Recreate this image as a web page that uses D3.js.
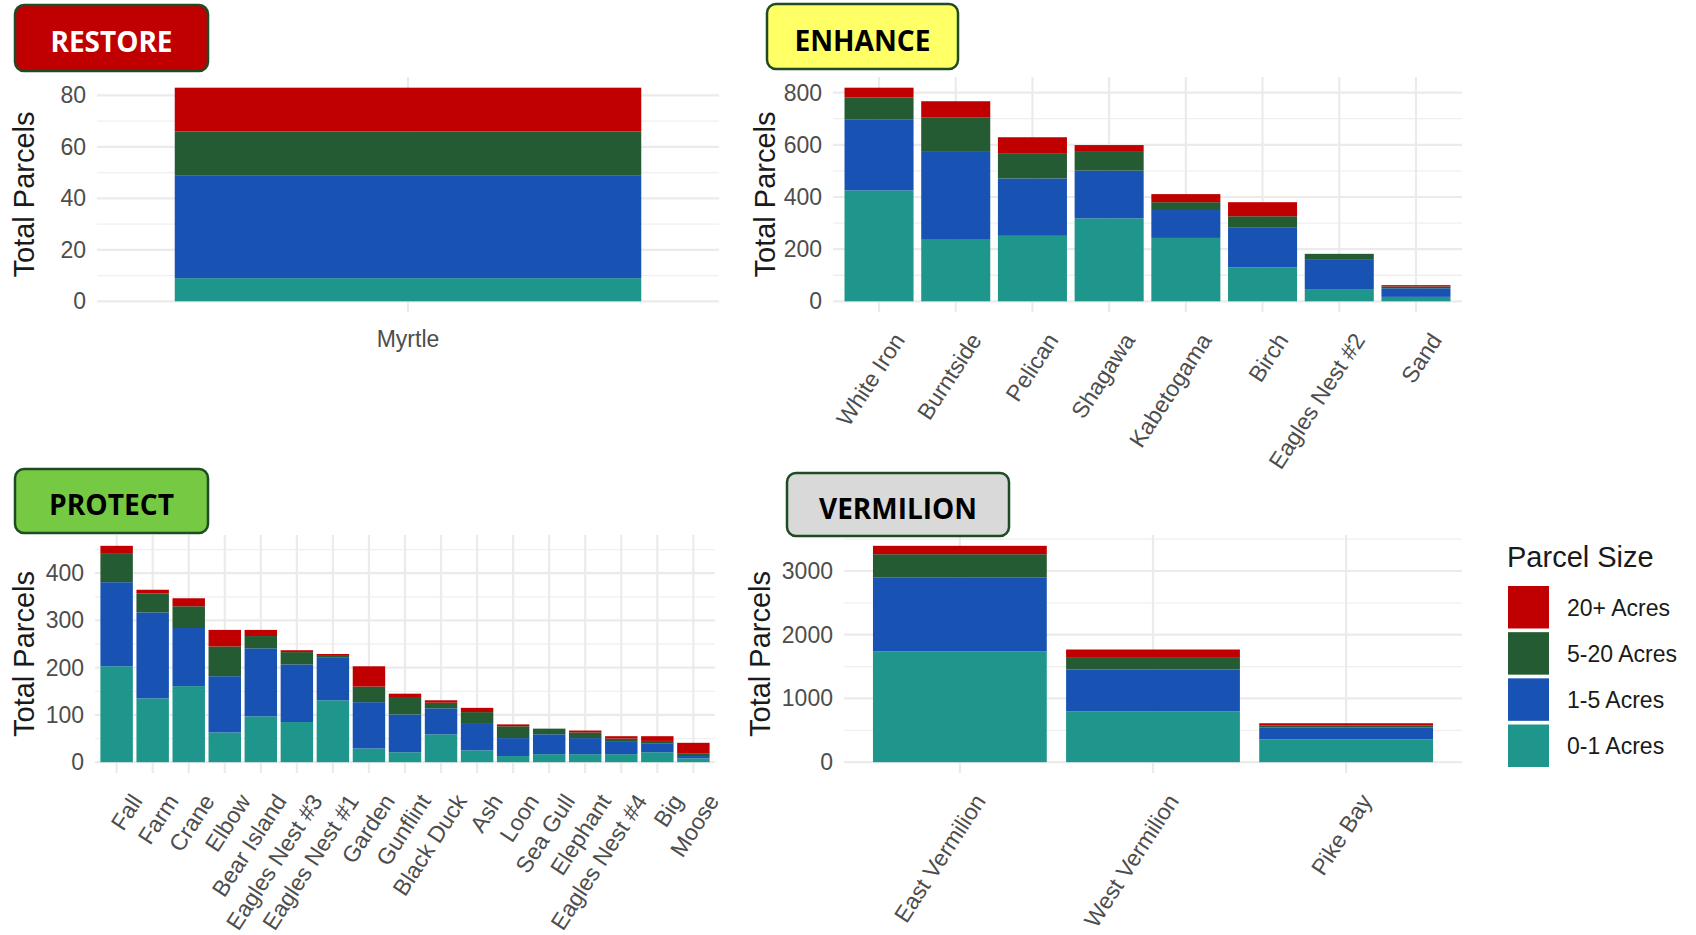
<!DOCTYPE html>
<html>
<head>
<meta charset="utf-8">
<script src="https://cdn.jsdelivr.net/npm/d3@7"></script>
<style>
  body { margin: 0; background: #fff; }
  svg { display: block; font-family: "Liberation Sans", Arial, sans-serif; }
</style>
</head>
<body>
<div id="chart"></div>
<script>
// Parcel counts per lake, by parcel size class
var sizeKeys = ["0-1 Acres", "1-5 Acres", "5-20 Acres", "20+ Acres"];
var sizeColors = ["#1F968B", "#1853B4", "#245B32", "#C00000"];

var restoreLakes = ["Myrtle"];
var restore01 = [9];
var restore15 = [40];
var restore520 = [17];
var restore20 = [17];

var enhanceLakes = ["White Iron", "Burntside", "Pelican", "Shagawa", "Kabetogama", "Birch", "Eagles Nest #2", "Sand"];
var enhance01 = [425, 236, 251, 318, 243, 130, 47, 17];
var enhance15 = [273, 340, 220, 183, 107, 152, 112, 33];
var enhance520 = [83, 128, 97, 75, 30, 44, 23, 7];
var enhance20 = [38, 63, 61, 23, 31, 54, 0, 5];

var protectLakes = ["Fall", "Farm", "Crane", "Elbow", "Bear Island", "Eagles Nest #3", "Eagles Nest #1", "Garden",
  "Gunflint", "Black Duck", "Ash", "Loon", "Sea Gull", "Elephant", "Eagles Nest #4", "Big", "Moose"];
var protect01 = [203, 135, 161, 63, 97, 85, 131, 29, 21, 59, 25, 13, 17, 17, 17, 21, 8];
var protect15 = [178, 182, 123, 119, 144, 122, 90, 98, 80, 55, 56, 38, 42, 34, 26, 18, 5];
var protect520 = [60, 40, 46, 63, 26, 26, 4, 33, 35, 12, 25, 25, 12, 12, 7, 6, 6];
var protect20 = [17, 8, 17, 35, 13, 4, 4, 43, 9, 5, 9, 4, 0, 4, 5, 10, 22];

var vermilionLakes = ["East Vermilion", "West Vermilion", "Pike Bay"];
var vermilion01 = [1737, 795, 358];
var vermilion15 = [1158, 658, 184];
var vermilion520 = [368, 184, 37];
var vermilion20 = [132, 131, 32];

// tick labels
var restoreTicks = [0, 20, 40, 60, 80];
var enhanceTicks = [0, 200, 400, 600, 800];
var protectTicks = [0, 100, 200, 300, 400];
var vermilionTicks = [0, 1000, 2000, 3000];

var svg = d3.select("#chart").append("svg")
  .attr("width", 1696)
  .attr("height", 935);

function buildRows(lakes, s01, s15, s520, s20) {
  return lakes.map(function(name, i) {
    var r = { lake: name };
    r[sizeKeys[0]] = s01[i];
    r[sizeKeys[1]] = s15[i];
    r[sizeKeys[2]] = s520[i];
    r[sizeKeys[3]] = s20[i];
    return r;
  });
}

function drawPanel(p) {
  var rows = buildRows(p.lakes, p.s01, p.s15, p.s520, p.s20);
  var series = d3.stack().keys(sizeKeys)(rows);
  var maxTotal = d3.max(rows, function(d) { return d3.sum(sizeKeys, function(k) { return d[k]; }); });

  var x = d3.scaleBand()
    .domain(p.lakes)
    .range([p.left, p.right])
    .paddingInner(0.1)
    .paddingOuter(0.15);

  var y = d3.scaleLinear()
    .domain([-0.05 * maxTotal, 1.05 * maxTotal])
    .range([p.bottom, p.top]);

  var g = svg.append("g");

  // minor gridlines (halfway between the major ticks)
  var step = p.ticks[1] - p.ticks[0];
  var minor = d3.range(step / 2, 1.05 * maxTotal, step);
  g.selectAll(".minor").data(minor).enter().append("line")
    .attr("x1", p.left).attr("x2", p.right)
    .attr("y1", function(d) { return y(d); })
    .attr("y2", function(d) { return y(d); })
    .attr("stroke", "#EFEFEF").attr("stroke-width", 1.3);

  // major gridlines
  g.selectAll(".major").data(p.ticks).enter().append("line")
    .attr("x1", p.left).attr("x2", p.right)
    .attr("y1", function(d) { return y(d); })
    .attr("y2", function(d) { return y(d); })
    .attr("stroke", "#EBEBEB").attr("stroke-width", 2.2);

  g.selectAll(".vgrid").data(p.lakes).enter().append("line")
    .attr("x1", function(d) { return x(d) + x.bandwidth() / 2; })
    .attr("x2", function(d) { return x(d) + x.bandwidth() / 2; })
    .attr("y1", p.top).attr("y2", p.bottom)
    .attr("stroke", "#EBEBEB").attr("stroke-width", 2.2);

  // stacked bars
  g.selectAll(".layer").data(series).enter().append("g")
    .attr("fill", function(d, i) { return sizeColors[i]; })
    .selectAll("rect").data(function(d) { return d; }).enter().append("rect")
    .attr("x", function(d) { return x(d.data.lake); })
    .attr("width", x.bandwidth())
    .attr("y", function(d) { return y(d[1]); })
    .attr("height", function(d) { return Math.max(0, y(d[0]) - y(d[1])); });

  // y axis
  var yAxis = g.append("g")
    .attr("transform", "translate(" + p.left + ",0)")
    .call(d3.axisLeft(y).tickValues(p.ticks).tickFormat(d3.format("d")).tickSize(0).tickPadding(11));
  yAxis.select(".domain").remove();
  yAxis.selectAll("text")
    .attr("fill", "#4D4D4D")
    .style("font-size", "23px")
    .style("font-family", "'Liberation Sans', Arial, sans-serif");

  // x axis
  var xAxis = g.append("g")
    .attr("transform", "translate(0," + p.bottom + ")")
    .call(d3.axisBottom(x).tickSize(0));
  xAxis.select(".domain").remove();
  var xt = xAxis.selectAll("text")
    .attr("fill", "#4D4D4D")
    .style("font-size", "23px")
    .style("font-family", "'Liberation Sans', Arial, sans-serif");
  if (p.rotate) {
    xt.attr("x", 0).attr("y", 0).attr("dy", "0.71em")
      .attr("text-anchor", "end")
      .attr("transform", "translate(13,19) rotate(-57)");
  } else {
    xt.attr("y", 19);
  }

  // y axis title
  g.append("text")
    .attr("transform", "translate(" + p.titleX + "," + ((p.top + p.bottom) / 2) + ") rotate(-90)")
    .attr("dy", "0.36em")
    .attr("text-anchor", "middle")
    .attr("fill", "#1A1A1A")
    .style("font-size", "29px")
    .text("Total Parcels");

  // label box
  var b = p.box;
  g.append("rect")
    .attr("x", b.x).attr("y", b.y)
    .attr("width", b.w).attr("height", b.h)
    .attr("rx", 9).attr("ry", 9)
    .attr("fill", b.fill)
    .attr("stroke", "#1E4A24").attr("stroke-width", 2.5);
  g.append("text")
    .attr("x", b.x + b.w / 2)
    .attr("y", b.y + b.h / 2 + 4)
    .attr("dy", "0.36em")
    .attr("text-anchor", "middle")
    .attr("fill", b.color)
    .attr("textLength", b.tw)
    .attr("lengthAdjust", "spacingAndGlyphs")
    .style("font-family", "'Open Sans', 'Noto Sans', sans-serif")
    .style("font-weight", 700)
    .style("font-size", "28px")
    .text(b.label);
}

drawPanel({
  lakes: restoreLakes, s01: restore01, s15: restore15, s520: restore520, s20: restore20,
  ticks: restoreTicks, left: 97, right: 719, top: 77, bottom: 312, titleX: 24, rotate: false,
  box: { x: 15, y: 5, w: 193, h: 66, fill: "#C00000", color: "#FFFFFF", label: "RESTORE", tw: 122 }
});

drawPanel({
  lakes: enhanceLakes, s01: enhance01, s15: enhance15, s520: enhance520, s20: enhance20,
  ticks: enhanceTicks, left: 833, right: 1462, top: 77, bottom: 312, titleX: 765, rotate: true,
  box: { x: 767, y: 4, w: 191, h: 65, fill: "#FFFF66", color: "#000000", label: "ENHANCE", tw: 136 }
});

drawPanel({
  lakes: protectLakes, s01: protect01, s15: protect15, s520: protect520, s20: protect20,
  ticks: protectTicks, left: 95, right: 715, top: 535, bottom: 773, titleX: 24, rotate: true,
  box: { x: 15, y: 469, w: 193, h: 64, fill: "#76C943", color: "#000000", label: "PROTECT", tw: 125 }
});

drawPanel({
  lakes: vermilionLakes, s01: vermilion01, s15: vermilion15, s520: vermilion520, s20: vermilion20,
  ticks: vermilionTicks, left: 844, right: 1462, top: 535, bottom: 773, titleX: 760, rotate: true,
  box: { x: 787, y: 473, w: 222, h: 63, fill: "#D9D9D9", color: "#000000", label: "VERMILION", tw: 158 }
});

// legend (largest class on top, as in the picture)
var legend = svg.append("g").attr("transform", "translate(1507,0)");
legend.append("text")
  .attr("x", 0).attr("y", 567)
  .attr("fill", "#1A1A1A")
  .style("font-size", "29px")
  .text("Parcel Size");

var legendOrder = sizeKeys.slice().reverse();
var ly = d3.scaleBand().domain(legendOrder).range([586, 767]).paddingInner(0.08);
var items = legend.selectAll(".item").data(legendOrder).enter().append("g");
items.append("rect")
  .attr("x", 1).attr("y", function(d) { return ly(d); })
  .attr("width", 41).attr("height", ly.bandwidth())
  .attr("fill", function(d) { return sizeColors[sizeKeys.indexOf(d)]; });
items.append("text")
  .attr("x", 60)
  .attr("y", function(d) { return ly(d) + ly.bandwidth() / 2; })
  .attr("dy", "0.36em")
  .attr("fill", "#1A1A1A")
  .style("font-size", "23px")
  .text(function(d) { return d; });
</script>
</body>
</html>
